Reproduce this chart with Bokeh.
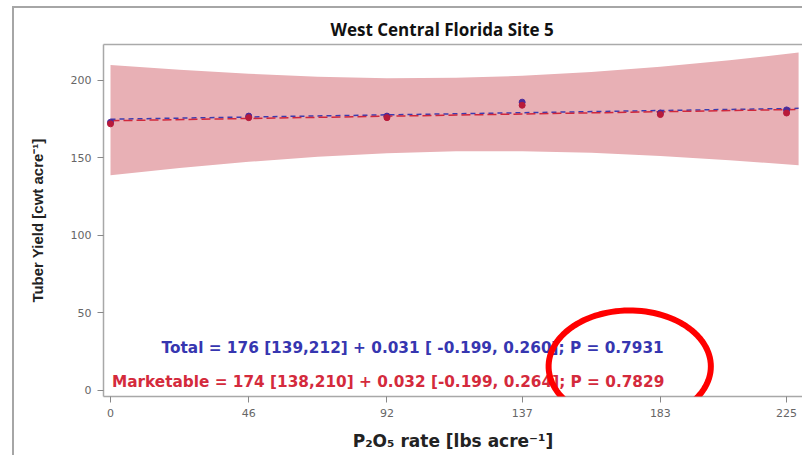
import numpy as np
from bokeh.plotting import figure
from bokeh.models import FixedTicker, Label, PolyAnnotation, Range1d, LinearAxis
from bokeh.embed import file_html
from bokeh.resources import INLINE

# ---- data ----
rates = [0, 46, 92, 137, 183, 225]
x_tick_labels = ["0", "46", "92", "137", "183", "225"]
y_ticks = [0, 50, 100, 150, 200]

total_yield = [173, 177, 177, 186, 179, 181]
marketable_yield = [172, 176, 176, 184, 178, 179]

fit_x = [0, 229]
total_fit = [175, 182]
marketable_fit = [174, 181.3]

band_x = [0, 23, 46, 69, 92, 115, 137, 160, 183, 206, 229]
band_upper = [210, 206.9, 204.3, 202.4, 201.5, 201.7, 203, 205.5, 208.9, 213, 218]
band_lower = [138.8, 143.5, 147.5, 150.8, 153.1, 154.3, 154.4, 153.3, 151.3, 148.6, 145.3]

title_text = "West Central Florida Site 5"
x_label = "P\u2082O\u2085 rate [lbs acre\u207b\u00b9]"
y_label = "Tuber Yield [cwt acre\u207b\u00b9]"
total_text = "Total = 176 [139,212] + 0.031 [ -0.199, 0.260]; P = 0.7931"
mkt_text = "Marketable = 174 [138,210] + 0.032 [-0.199, 0.264]; P = 0.7829"

p = figure(width=802, height=455, output_backend="svg", toolbar_location=None,
           x_range=Range1d(-2.33, 230.3), y_range=Range1d(-3.9, 223.2),
           min_border_left=103, min_border_top=44, min_border_bottom=59,
           min_border_right=0)

# outer panel frame (thin grey lines at left and top), drawn as the page background
p.border_fill_color = None
p.background_fill_color = "white"
p.styles = {
    "background-color": "white",
    "background-image": "linear-gradient(#a6a6a6,#a6a6a6), linear-gradient(#a6a6a6,#a6a6a6)",
    "background-size": "2px 100%, 100% 2px",
    "background-position": "12px 6px, 12px 6px",
    "background-repeat": "no-repeat",
}

p.title.text = title_text
p.title.align = "left"
p.title.offset = 227
p.title.text_font = "Open Sans"
p.title.text_font_size = "17px"
p.title.text_font_style = "bold"
p.title.text_color = "#111111"
p.title.standoff = 8

p.xgrid.visible = False
p.ygrid.visible = False
p.outline_line_color = None

xax = p.below[0]
yax = p.left[0]
for ax in (xax, yax):
    ax.axis_line_color = "#a8a8a8"
    ax.axis_line_width = 1.5
    ax.major_tick_line_color = "#888888"
    ax.major_tick_in = 0
    ax.major_tick_out = 6
    ax.minor_tick_line_color = None
    ax.major_label_text_font = "DejaVu Sans"
    ax.major_label_text_font_size = "11px"
    ax.major_label_text_color = "#666666"
    ax.axis_label_text_font_style = "bold"
    ax.axis_label_text_color = "#222222"

xax.ticker = FixedTicker(ticks=rates)
xax.major_label_overrides = {r: l for r, l in zip(rates, x_tick_labels)}
yax.ticker = FixedTicker(ticks=y_ticks)
xax.axis_label = x_label
yax.axis_label = y_label
xax.axis_label_text_font = "DejaVu Sans"
xax.axis_label_text_font_size = "17px"
yax.axis_label_text_font = "Liberation Sans"
yax.axis_label_text_font_size = "15px"
xax.major_label_standoff = 6
yax.major_label_standoff = 6
xax.axis_label_standoff = 11
yax.axis_label_standoff = 22

# top frame line as a bare axis without ticks
top_axis = LinearAxis(ticker=FixedTicker(ticks=[]), major_tick_line_color=None,
                      minor_tick_line_color=None, axis_line_color="#aaaaaa",
                      axis_line_width=1.5, major_label_standoff=0,
                      major_tick_out=0, major_tick_in=0, minor_tick_out=0,
                      minor_tick_in=0)
p.add_layout(top_axis, "above")

p.varea(x=band_x, y1=band_lower, y2=band_upper, fill_color="#e8b0b5", fill_alpha=1.0)

p.line(fit_x, total_fit, line_color="#3b3bb0", line_width=1.5, line_dash="5 4")
p.line(fit_x, marketable_fit, line_color="#d0283c", line_width=1.5, line_dash="9 4")

p.scatter(rates, total_yield, size=6, fill_color="#4a2a9a", line_color="#4a2a9a")
p.scatter(rates, marketable_yield, size=6, fill_color="#b81a3a", line_color="#b81a3a")

p.add_layout(Label(x=184.1, y=27.7, text=total_text, text_align="right",
                   text_baseline="middle", text_font="DejaVu Sans",
                   text_font_style="bold", text_font_size="15.3px",
                   text_color="#3636b0"))
p.add_layout(Label(x=184.3, y=5.2, text=mkt_text, text_align="right",
                   text_baseline="middle", text_font="DejaVu Sans",
                   text_font_style="bold", text_font_size="15.3px",
                   text_color="#d42a3c"))

# highlight ellipse
t = np.linspace(0, 2 * np.pi, 120)
ex = 172.8 + 27.0 * np.cos(t)
ey = 15.5 + 36.1 * np.sin(t)
p.add_layout(PolyAnnotation(xs=list(ex), ys=list(ey), fill_alpha=0,
                            line_color="#ff0000", line_alpha=1.0, line_width=6))

open("out.html", "w").write(file_html(p, INLINE))
